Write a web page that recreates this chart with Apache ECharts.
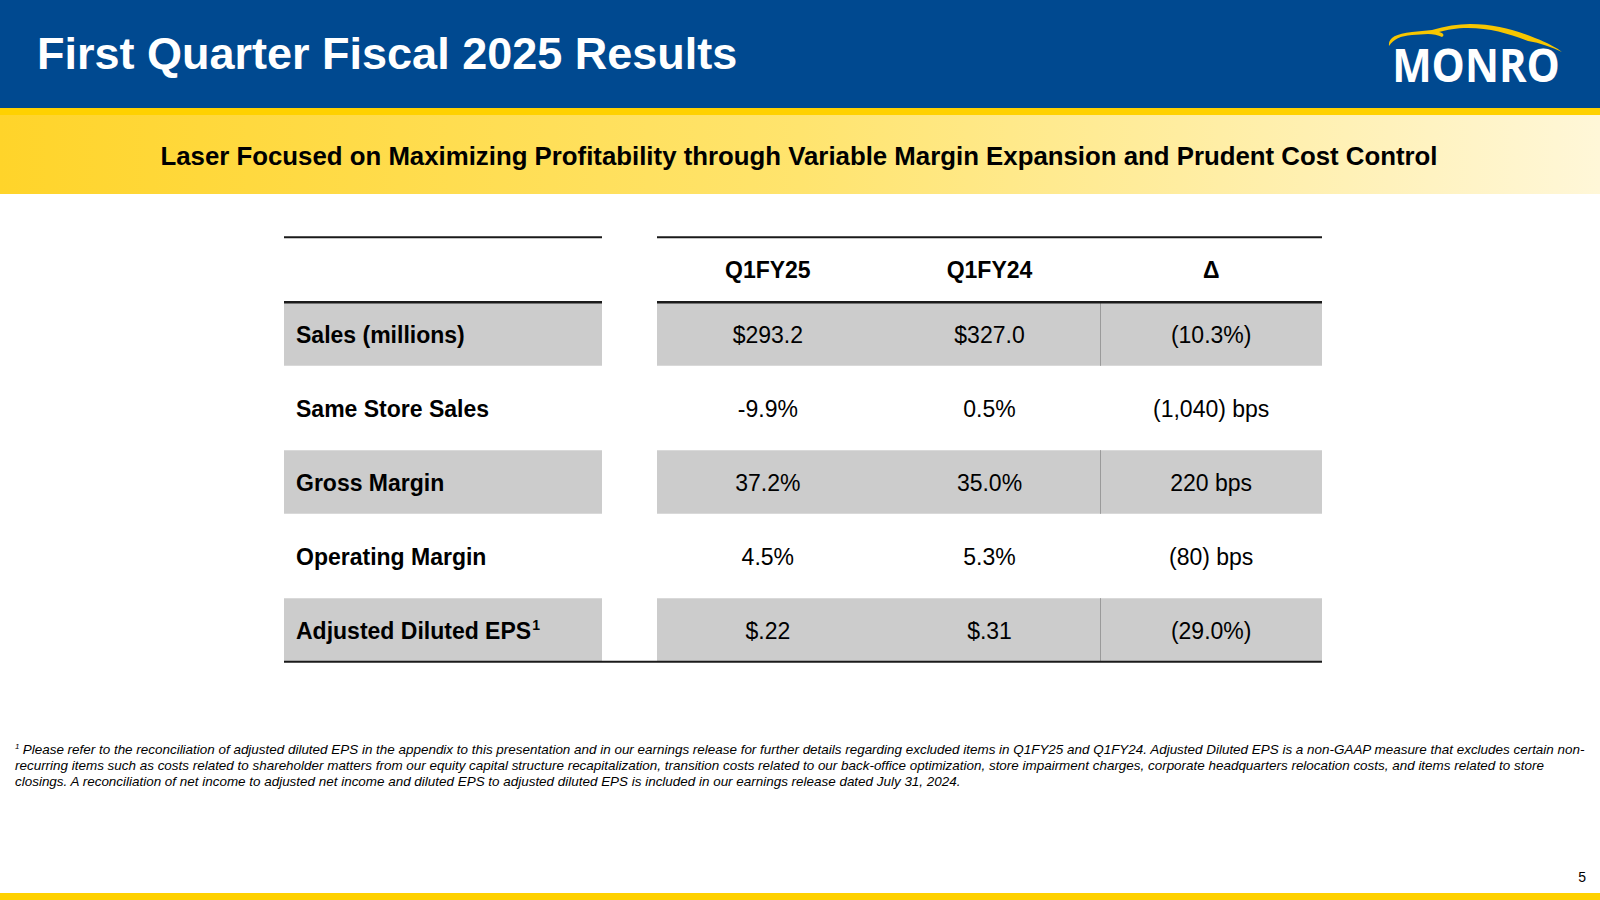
<!DOCTYPE html>
<html>
<head>
<meta charset="utf-8">
<title>First Quarter Fiscal 2025 Results</title>
<script src="https://cdn.jsdelivr.net/npm/echarts@6/dist/echarts.min.js"></script>
<style>
html,body{margin:0;padding:0;background:#fff;}
#chart{width:1600px;height:900px;}
</style>
</head>
<body>
<div id="chart"></div>
<script>
// ---------- data ----------
const title = 'First Quarter Fiscal 2025 Results';
const subtitle = 'Laser Focused on Maximizing Profitability through Variable Margin Expansion and Prudent Cost Control';
const columns = ['Q1FY25', 'Q1FY24', 'Δ'];
const rowLabels = ['Sales (millions)', 'Same Store Sales', 'Gross Margin', 'Operating Margin', 'Adjusted Diluted EPS'];
const rowNotes = ['', '', '', '', '1'];
const q1fy25 = ['$293.2', '-9.9%', '37.2%', '4.5%', '$.22'];
const q1fy24 = ['$327.0', '0.5%', '35.0%', '5.3%', '$.31'];
const delta = ['(10.3%)', '(1,040) bps', '220 bps', '(80) bps', '(29.0%)'];
const footnoteLines = [
  'Please refer to the reconciliation of adjusted diluted EPS in the appendix to this presentation and in our earnings release for further details regarding excluded items in Q1FY25 and Q1FY24. Adjusted Diluted EPS is a non-GAAP measure that excludes certain non-',
  'recurring items such as costs related to shareholder matters from our equity capital structure recapitalization, transition costs related to our back-office optimization, store impairment charges, corporate headquarters relocation costs, and items related to store',
  'closings. A reconciliation of net income to adjusted net income and diluted EPS to adjusted diluted EPS is included in our earnings release dated July 31, 2024.'
];
const pageNumber = '5';
const logoText = 'MONRO';

// ---------- layout / style ----------
const BLUE = '#004990';
const YELLOW = '#FFD100';
const GRAY = '#CCCCCC';
const LINE = '#1a1a1a';
const FONT = 'Arial, "Liberation Sans", Helvetica, sans-serif';
const LABEL_GAP = 55;      // gap between label column and value block
const LABEL_WIDTH = 318;   // width of label column
const LABEL_PAD = 12;
const BAND_RATIO = 0.86;   // shaded band height relative to row pitch
const HEADER_H = 65;
const TEXT_DY = 1;
const LOGO_PATH = 'M1389,46 C1388,38 1395,34 1412,32 L1432,30 C1445,26 1458,24 1470,24 C1495,24 1515,30 1535,38 C1548,43 1557,48 1562,52 C1552,47 1540,43 1528,41 C1510,34 1490,28 1468,28 C1456,28 1447,30 1439,32 C1443,33 1445,35 1442,37 C1438,35 1433,34 1428,34 L1412,35 C1400,36 1394,39 1389,46 Z';

const valueCols = [q1fy25, q1fy24, delta];
const tableData = rowLabels.map((r, i) => [0, i]);

const chart = echarts.init(document.getElementById('chart'), null, {renderer: 'svg'});

function renderRow(params, api) {
  const i = api.value(1);
  const cs = params.coordSys;
  const pitch = api.size([0, 1])[1];
  const colW = api.size([1, 0])[0];
  const cy = api.coord([0, i])[1];
  const bandH = pitch * BAND_RATIO;
  const top = cy - bandH / 2;
  const bot = cy + bandH / 2;
  const lx0 = cs.x - LABEL_GAP - LABEL_WIDTH;
  const lx1 = cs.x - LABEL_GAP;
  const rx0 = cs.x;
  const rx1 = cs.x + cs.width;
  const children = [];
  if (i % 2 === 0) {
    children.push({type: 'rect', shape: {x: lx0, y: top, width: LABEL_WIDTH, height: bandH}, style: {fill: GRAY}});
    children.push({type: 'rect', shape: {x: rx0, y: top, width: cs.width, height: bandH}, style: {fill: GRAY}});
    const sx = Math.round(api.coord([1, i])[0] + colW / 2) + 0.5;
    children.push({type: 'line', shape: {x1: sx, y1: top, x2: sx, y2: bot}, style: {stroke: '#9a9a9a', lineWidth: 1}});
  }
  // header block above first row
  if (i === 0) {
    const hTop = top - HEADER_H;
    [[lx0, lx1], [rx0, rx1]].forEach(function (seg) {
      children.push({type: 'line', shape: {x1: seg[0], y1: hTop, x2: seg[1], y2: hTop}, style: {stroke: LINE, lineWidth: 2}});
      children.push({type: 'line', shape: {x1: seg[0], y1: top, x2: seg[1], y2: top}, style: {stroke: LINE, lineWidth: 2.5}});
    });
    columns.forEach(function (c, j) {
      children.push({type: 'text', x: api.coord([j, i])[0], y: hTop + HEADER_H / 2,
        style: {text: c, fill: '#000', font: 'bold 23px ' + FONT, align: 'center', verticalAlign: 'middle'}});
    });
  }
  if (i === rowLabels.length - 1) {
    children.push({type: 'line', shape: {x1: lx0, y1: bot, x2: rx1, y2: bot}, style: {stroke: LINE, lineWidth: 2}});
  }
  // label
  const note = rowNotes[i];
  children.push({type: 'text', x: lx0 + LABEL_PAD, y: cy + TEXT_DY,
    style: {
      text: note ? '{b|' + rowLabels[i] + '}{s|' + note + '}' : '{b|' + rowLabels[i] + '}',
      verticalAlign: 'middle', align: 'left',
      rich: {
        b: {font: 'bold 23px ' + FONT, fill: '#000'},
        s: {font: 'bold 14px ' + FONT, fill: '#000', verticalAlign: 'top', padding: [0, 0, 12, 1]}
      }
    }});
  valueCols.forEach(function (col, j) {
    children.push({type: 'text', x: api.coord([j, i])[0], y: cy + TEXT_DY,
      style: {text: col[i], fill: '#000', font: '23px ' + FONT, align: 'center', verticalAlign: 'middle'}});
  });
  return {type: 'group', children: children};
}

const option = {
  animation: false,
  backgroundColor: '#ffffff',
  grid: {left: 657, width: 665, top: 297, height: 370},
  xAxis: {type: 'category', data: columns, show: false},
  yAxis: {type: 'category', data: rowLabels, inverse: true, show: false},
  series: [{
    type: 'custom',
    renderItem: renderRow,
    data: tableData,
    silent: true,
    clip: false
  }, {
    type: 'custom',
    coordinateSystem: 'none',
    silent: true,
    z: 5,
    data: [[0]],
    renderItem: function () {
      return {type: 'path', shape: {pathData: LOGO_PATH}, style: {fill: '#F7C600'}};
    }
  }],
  graphic: [
    {type: 'rect', shape: {x: 0, y: 0, width: 1600, height: 108}, style: {fill: BLUE}, z: 1},
    {type: 'rect', shape: {x: 0, y: 108, width: 1600, height: 7}, style: {fill: YELLOW}, z: 1},
    {type: 'rect', shape: {x: 0, y: 115, width: 1600, height: 79}, z: 1,
      style: {fill: new echarts.graphic.LinearGradient(0, 0, 1, 0, [
        {offset: 0, color: '#FFD42A'}, {offset: 0.5, color: '#FFE46E'}, {offset: 1, color: '#FFF7D8'}])}},
    {type: 'rect', shape: {x: 0, y: 893, width: 1600, height: 7}, style: {fill: YELLOW}, z: 1},
    {type: 'text', x: 37, y: 53, z: 2,
      style: {text: title, fill: '#fff', font: 'bold 45px ' + FONT, verticalAlign: 'middle', align: 'left'}},
    {type: 'text', x: 799, y: 156, z: 2,
      style: {text: subtitle, fill: '#000', font: 'bold 25.8px ' + FONT, verticalAlign: 'middle', align: 'center'}},
    {type: 'text', x: 1476, y: 64.5, z: 2, scaleX: 0.91,
      style: {text: logoText, fill: '#fff', font: 'bold 46px "Open Sans", Lato, sans-serif', align: 'center', verticalAlign: 'middle'}},
    // footnote
    {type: 'group', x: 15, y: 749, z: 2, children: footnoteLines.map(function (t, k) {
      return {type: 'text', x: 0, y: k * 16.4,
        style: {text: k === 0 ? '{s|1} {t|' + t + '}' : '{t|' + t + '}', verticalAlign: 'middle', align: 'left',
          rich: {t: {font: 'italic 13.45px ' + FONT, fill: '#000'},
                 s: {font: 'italic 8px ' + FONT, fill: '#000', verticalAlign: 'top', padding: [0, 0, 6, 0]}}}};
    })},
    {type: 'text', x: 1586, y: 877, z: 2,
      style: {text: pageNumber, fill: '#000', font: '14px ' + FONT, align: 'right', verticalAlign: 'middle'}}
  ]
};
chart.setOption(option);
</script>
</body>
</html>
